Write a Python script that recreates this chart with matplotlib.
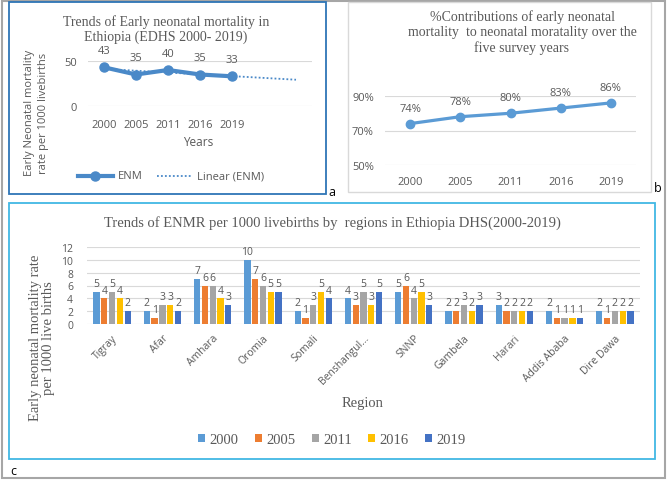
import matplotlib
matplotlib.use("Agg")
import matplotlib.pyplot as plt
from matplotlib.patches import Rectangle
from matplotlib.lines import Line2D
import numpy as np

W, H = 669, 481
SANS = ["Open Sans", "DejaVu Sans"]
SERIF = ["Liberation Serif", "DejaVu Serif"]
GRAY = "#595959"
GRID = "#d9d9d9"

# ---------------- data ----------------
years = ["2000", "2005", "2011", "2016", "2019"]
enm = [43, 35, 40, 35, 33]
pct_contrib = [0.74, 0.78, 0.80, 0.83, 0.86]
regions = ["Tigray", "Afar", "Amhara", "Oromia", "Somali", "Benshangul...",
           "SNNP", "Gambela", "Harari", "Addis Ababa", "Dire Dawa"]
enmr_2000 = [5, 2, 7, 10, 2, 4, 5, 2, 3, 2, 2]
enmr_2005 = [4, 1, 6, 7, 1, 3, 6, 2, 2, 1, 1]
enmr_2011 = [5, 3, 6, 6, 3, 5, 4, 3, 2, 1, 2]
enmr_2016 = [4, 3, 4, 5, 5, 3, 5, 2, 2, 1, 2]
enmr_2019 = [2, 2, 3, 5, 4, 5, 3, 3, 2, 1, 2]
bar_colors = ["#5B9BD5", "#ED7D31", "#A5A5A5", "#FFC000", "#4472C4"]

fig = plt.figure(figsize=(W / 100, H / 100), dpi=100)


def fx(x):
    return x / W


def fy(y):
    return 1 - y / H


def add_ax(x0, y0, x1, y1):
    return fig.add_axes([fx(x0), fy(y1), (x1 - x0) / W, (y1 - y0) / H])


def box(x0, y0, x1, y1, color, lw):
    fig.patches.append(Rectangle((fx(x0), fy(y1)), (x1 - x0) / W, (y1 - y0) / H,
                                 transform=fig.transFigure, fill=False,
                                 edgecolor=color, linewidth=lw))


def style(ax):
    for s in ax.spines.values():
        s.set_visible(False)
    ax.tick_params(length=0, colors=GRAY)
    ax.set_facecolor("none")


# outer frame and panel borders
box(1.5, 1.5, 665, 479, "#a6a6a6", 1.5)
box(8.5, 3, 326, 194.5, "#2e75b6", 1.3)
box(348, 3, 651, 193, "#d9d9d9", 1.0)
box(8.5, 204, 655, 460, "#41b8e4", 1.3)
fig.text(fx(328), fy(192), "a", fontsize=9, family=SANS, color="black", ha="left", va="center")
fig.text(fx(654), fy(188), "b", fontsize=9, family=SANS, color="black", ha="left", va="center")
fig.text(fx(10), fy(472), "c", fontsize=9, family=SANS, color="black", ha="left", va="center")

# ---------------- panel a ----------------
ax = add_ax(88, 62, 312, 107)
style(ax)
xa = np.arange(len(years))
ax.set_xlim(-0.5, 6.5)
ax.set_ylim(0, 50)
ax.set_yticks([0, 50])
ax.yaxis.grid(True, color=GRID, lw=0.8)
ax.set_axisbelow(True)
ax.set_xticks(xa)
ax.set_xticklabels(years, family=SANS, fontsize=8, color=GRAY)
ax.tick_params(axis="x", pad=9)
ax.tick_params(axis="y", pad=8)
for t in ax.get_yticklabels():
    t.set_family(SANS); t.set_fontsize(8)
ca = "#4a89c8"
coef = np.polyfit(xa, enm, 1)
xt = np.array([0, 6])
ax.plot(xt, np.polyval(coef, xt), ls=(0, (1, 1.2)), color=ca, lw=1.3, clip_on=False)
ax.plot(xa, enm, color=ca, lw=3, marker="o", ms=6.5, clip_on=False)
for x, v in zip(xa, enm):
    ax.annotate(str(v), (x, v), xytext=(0, 12), textcoords="offset points",
                ha="center", va="center", fontsize=8, family=SANS, color=GRAY)
fig.text(fx(198), fy(142), "Years", ha="center", va="center", fontsize=8.5, family=SANS, color=GRAY)
fig.text(fx(36.5), fy(113), "Early Neonatal mortality\nrate per 1000 livebirths", rotation=90,
         ha="center", va="center", fontsize=8, family=SANS, color=GRAY, linespacing=1.3)
fig.text(fx(166), fy(29.5), "Trends of Early neonatal mortality in\nEthiopia (EDHS 2000- 2019)",
         ha="center", va="center", fontsize=10, family=SERIF, color=GRAY, linespacing=1.1)
fig.lines.append(Line2D([fx(78), fx(113)], [fy(177), fy(177)], transform=fig.transFigure,
                        color=ca, lw=3, marker=None))
fig.lines.append(Line2D([fx(95.5)], [fy(177)], transform=fig.transFigure,
                        color=ca, marker="o", ms=6.5, lw=0))
fig.text(fx(118), fy(177), "ENM", ha="left", va="center", fontsize=8, family=SANS, color=GRAY)
fig.lines.append(Line2D([fx(157), fx(192)], [fy(177), fy(177)], transform=fig.transFigure,
                        color=ca, lw=1.3, ls=(0, (1, 1.2))))
fig.text(fx(197), fy(177), "Linear (ENM)", ha="left", va="center", fontsize=8, family=SANS, color=GRAY)

# ---------------- panel b ----------------
bx = add_ax(385, 97, 636, 166)
style(bx)
xb = np.arange(len(years))
bx.set_xlim(-0.5, 4.5)
bx.set_ylim(0.5, 0.9)
bx.set_yticks([0.5, 0.7, 0.9])
bx.set_yticklabels(["50%", "70%", "90%"], family=SANS, fontsize=8, color=GRAY)
bx.yaxis.grid(True, color=GRID, lw=0.8)
bx.set_axisbelow(True)
bx.set_xticks(xb)
bx.set_xticklabels(years, family=SANS, fontsize=8, color=GRAY)
bx.tick_params(axis="x", pad=8)
bx.tick_params(axis="y", pad=8)
bx.plot(xb, pct_contrib, color="#5b9bd5", lw=2.3, marker="o", ms=6, clip_on=False)
for x, v in zip(xb, pct_contrib):
    bx.annotate(f"{round(v * 100)}%", (x, v), xytext=(0, 11), textcoords="offset points",
                ha="center", va="center", fontsize=8, family=SANS, color=GRAY)
fig.text(fx(522), fy(33), "%Contributions of early neonatal\nmortality  to neonatal moratality over the\nfive survey years",
         ha="center", va="center", fontsize=10, family=SERIF, color=GRAY, linespacing=1.2)

# ---------------- panel c ----------------
cx = add_ax(87, 248, 640, 325)
style(cx)
xc = np.arange(len(regions))
cx.set_xlim(-0.5, len(regions) - 0.5)
cx.set_ylim(0, 12)
cx.set_yticks(range(0, 13, 2))
for t in cx.get_yticklabels():
    t.set_family(SANS); t.set_fontsize(7.5)
cx.yaxis.grid(True, color=GRID, lw=0.8)
cx.set_axisbelow(True)
cx.tick_params(axis="y", pad=10)
series = [enmr_2000, enmr_2005, enmr_2011, enmr_2016, enmr_2019]
bw, step = 0.125, 0.155
for i, (vals, col, yr) in enumerate(zip(series, bar_colors, years)):
    pos = xc + (i - 2) * step
    cx.bar(pos, vals, width=bw, color=col, label=yr)
    for p, v in zip(pos, vals):
        cx.annotate(str(v), (p, v), xytext=(0, 2), textcoords="offset points",
                    ha="center", va="bottom", fontsize=7.5, family=SANS, color=GRAY)
cx.set_xticks(xc)
cx.set_xticklabels(regions, rotation=45, ha="right", rotation_mode="anchor",
                   family=SANS, fontsize=7.5, color=GRAY)
cx.tick_params(axis="x", pad=6)
fig.text(fx(363), fy(404), "Region", ha="center", va="center", fontsize=10.5, family=SERIF, color=GRAY)
fig.text(fx(42), fy(338), "Early neonatal mortality rate\nper 1000 live births", rotation=90,
         ha="center", va="center", fontsize=10.5, family=SERIF, color=GRAY, linespacing=1.0)
fig.text(fx(332), fy(223), "Trends of ENMR per 1000 livebirths by  regions in Ethiopia DHS(2000-2019)",
         ha="center", va="center", fontsize=10.5, family=SERIF, color=GRAY)
handles, labels = cx.get_legend_handles_labels()
leg = fig.legend(handles, labels, loc="center", bbox_to_anchor=(fx(332), fy(441)), ncol=5,
                 frameon=False, prop={"family": SERIF, "size": 10.5}, handlelength=0.5,
                 handleheight=0.5, handletextpad=0.3, columnspacing=1.1)
for t in leg.get_texts():
    t.set_color(GRAY)

fig.savefig("out.png", dpi=100)
